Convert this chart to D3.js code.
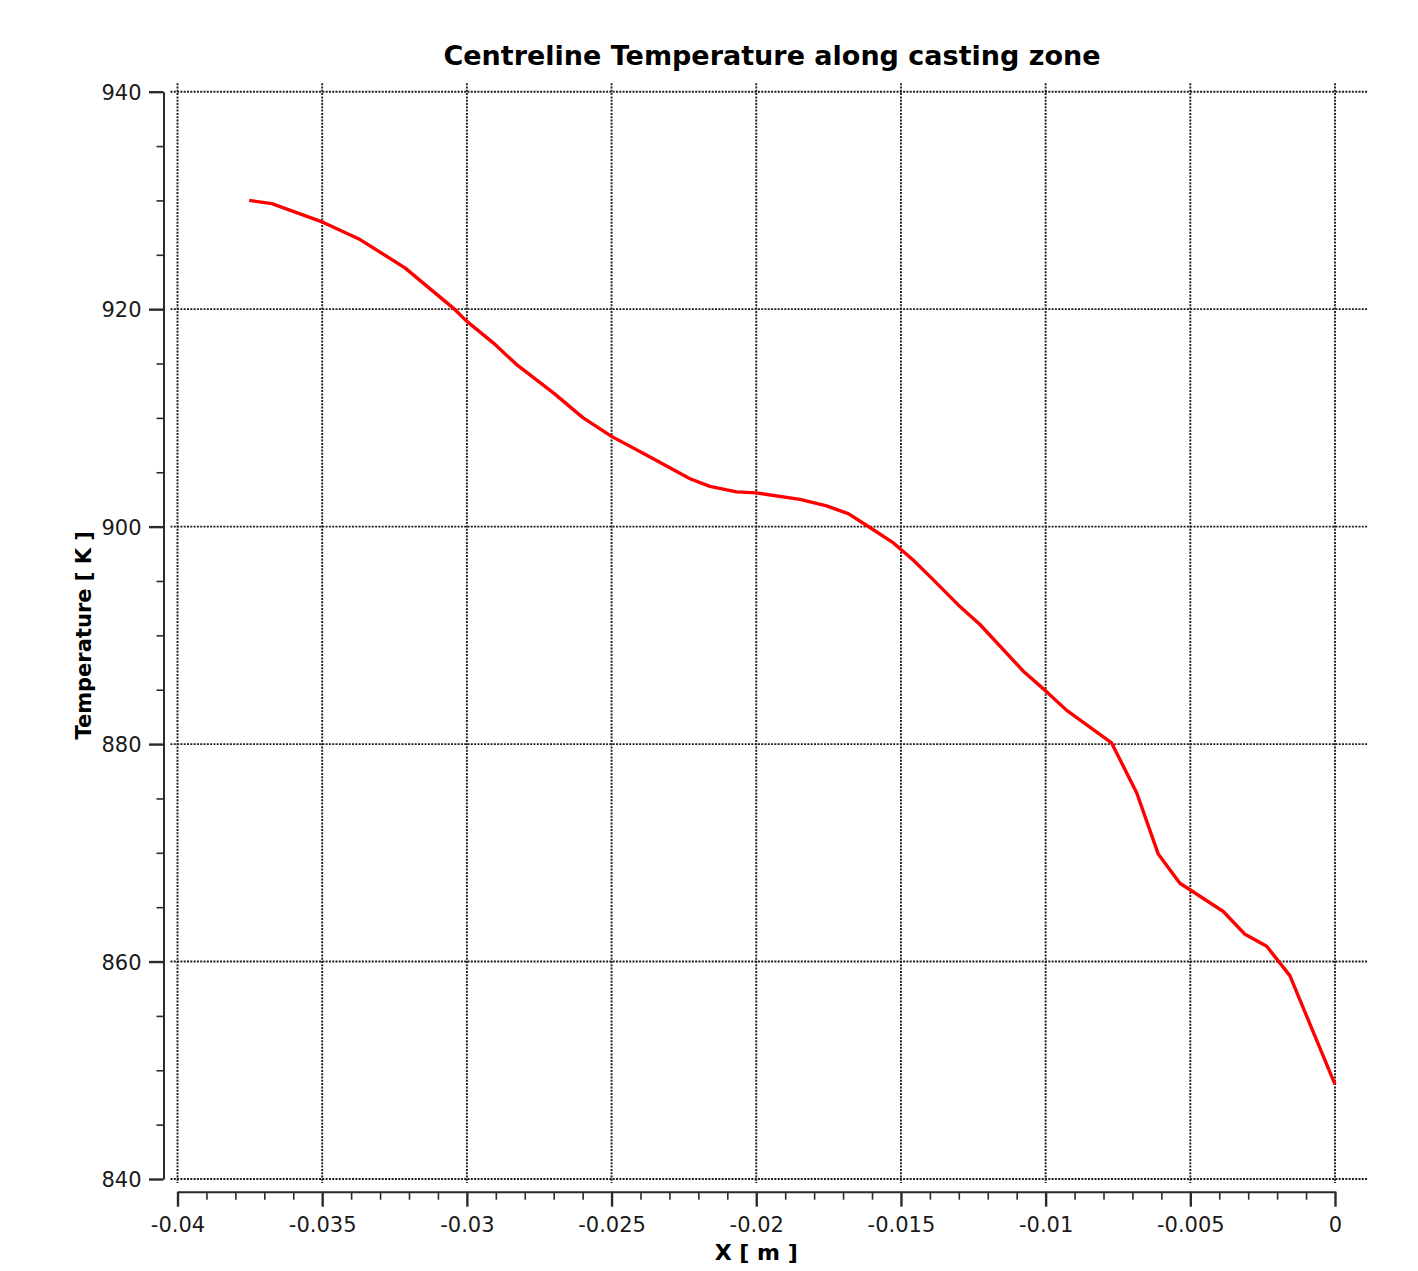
<!DOCTYPE html>
<html>
<head>
<meta charset="utf-8">
<script src="https://cdn.jsdelivr.net/npm/d3@7"></script>
<style>
  html, body { margin: 0; padding: 0; background: #ffffff; }
  svg { display: block; }
  .tick text { font-family: "DejaVu Sans", Verdana, sans-serif; fill: #1a1a1a; }
</style>
</head>
<body>
<svg id="chart" width="1418" height="1271"></svg>
<script>
// Centreline temperature samples along the casting zone
const positionX = [
  -0.03752, -0.03674, -0.03498, -0.03369, -0.03214, -0.03047, -0.03001, -0.02909,
  -0.02828, -0.02701, -0.02598, -0.02500, -0.02367, -0.02229, -0.02160, -0.02068,
  -0.01999, -0.01849, -0.01757, -0.01682, -0.01618, -0.01526, -0.01457, -0.01388,
  -0.01302, -0.01227, -0.01077, -0.00996, -0.00927, -0.00772, -0.00685, -0.00611,
  -0.00536, -0.00501, -0.00386, -0.00311, -0.00236, -0.00156, 0.0
];
const temperatureK = [
  930.0, 929.7, 928.0, 926.4, 923.8, 920.1, 918.9, 916.9,
  914.9, 912.3, 910.0, 908.3, 906.4, 904.4, 903.7, 903.2,
  903.1, 902.5, 901.9, 901.2, 900.1, 898.5, 896.9, 895.1,
  892.8, 891.0, 886.7, 884.8, 883.1, 880.1, 875.5, 869.9,
  867.2, 866.6, 864.6, 862.5, 861.4, 858.7, 848.7
];

const xTickValues = [-0.04, -0.035, -0.03, -0.025, -0.02, -0.015, -0.01, -0.005, 0];
const xTickLabels = ["-0.04", "-0.035", "-0.03", "-0.025", "-0.02", "-0.015", "-0.01", "-0.005", "0"];
const yTickValues = [840, 860, 880, 900, 920, 940];
const yTickLabels = ["840", "860", "880", "900", "920", "940"];

const titleText = "Centreline Temperature along casting zone";
const xAxisTitle = "X [ m ]";
const yAxisTitle = "Temperature [ K ]";

const svg = d3.select("#chart");

const x = d3.scaleLinear().domain([-0.04, 0]).range([177.5, 1335]);
const y = d3.scaleLinear().domain([840, 940]).range([1179, 91.7]);

const xMinor = d3.range(-40, 1).map(k => k / 1000).filter(v => !xTickValues.some(t => Math.abs(t - v) < 1e-9));
const yMinor = d3.range(840, 941, 5).filter(v => !yTickValues.includes(v));

// dotted grid
const grid = svg.append("g").attr("class", "grid")
  .attr("stroke", "#1e1e1e").attr("stroke-width", 1.9)
  .attr("stroke-dasharray", "2,1.3").attr("fill", "none");

grid.selectAll("line.v").data(xTickValues).join("line")
  .attr("class", "v")
  .attr("x1", d => x(d)).attr("x2", d => x(d))
  .attr("y1", y(940) - 8.5).attr("y2", y(840) + 4);

grid.selectAll("line.h").data(yTickValues).join("line")
  .attr("class", "h")
  .attr("y1", d => y(d)).attr("y2", d => y(d))
  .attr("x1", x(-0.04) - 7).attr("x2", x(0) + 33);

// x axis (below the plot)
const xAxisY = 1191.7;
const xAxisG = svg.append("g").attr("transform", `translate(0,${xAxisY})`);
xAxisG.call(d3.axisBottom(x).tickValues(xTickValues).tickSize(15).tickSizeOuter(0)
  .tickFormat((d, i) => xTickLabels[i]));
xAxisG.selectAll(".tick line").attr("stroke-width", 2.4);
xAxisG.select(".domain").attr("stroke-width", 2);
xAxisG.selectAll(".tick text").attr("font-size", 21).attr("dy", "1.0em").attr("y", 19);

const xMinorG = svg.append("g").attr("transform", `translate(0,${xAxisY})`);
xMinorG.call(d3.axisBottom(x).tickValues(xMinor).tickSize(8).tickFormat(""));
xMinorG.select(".domain").remove();
xMinorG.selectAll(".tick line").attr("stroke-width", 1.6);

// y axis (left of the plot)
const yAxisX = 163.5;
const yAxisG = svg.append("g").attr("transform", `translate(${yAxisX},0)`);
yAxisG.call(d3.axisLeft(y).tickValues(yTickValues).tickSize(14.5).tickSizeOuter(0)
  .tickFormat((d, i) => yTickLabels[i]));
yAxisG.selectAll(".tick line").attr("stroke-width", 2.4);
yAxisG.select(".domain").attr("stroke-width", 2);
yAxisG.selectAll(".tick text").attr("font-size", 21).attr("x", -22).attr("dy", "0.36em");

const yMinorG = svg.append("g").attr("transform", `translate(${yAxisX},0)`);
yMinorG.call(d3.axisLeft(y).tickValues(yMinor).tickSize(7).tickFormat(""));
yMinorG.select(".domain").remove();
yMinorG.selectAll(".tick line").attr("stroke-width", 1.6);

svg.selectAll(".domain, .tick line").attr("stroke", "#2b2b2b");

// temperature curve
const points = positionX.map((px, i) => [px, temperatureK[i]]);
svg.append("path")
  .datum(points)
  .attr("fill", "none")
  .attr("stroke", "#ff0000")
  .attr("stroke-width", 3.4)
  .attr("stroke-linejoin", "round")
  .attr("d", d3.line().x(d => x(d[0])).y(d => y(d[1])));

// titles
svg.append("text")
  .attr("x", 772).attr("y", 65)
  .attr("text-anchor", "middle")
  .attr("font-family", "DejaVu Sans, Verdana, sans-serif")
  .attr("font-weight", "bold").attr("font-size", 27)
  .attr("fill", "#000")
  .text(titleText);

svg.append("text")
  .attr("x", (x(-0.04) + x(0)) / 2).attr("y", 1260)
  .attr("text-anchor", "middle")
  .attr("font-family", "DejaVu Sans, Verdana, sans-serif")
  .attr("font-weight", "bold").attr("font-size", 22)
  .attr("fill", "#000")
  .text(xAxisTitle);

svg.append("text")
  .attr("transform", `translate(91,${(y(840) + y(940)) / 2}) rotate(-90)`)
  .attr("text-anchor", "middle")
  .attr("font-family", "DejaVu Sans, Verdana, sans-serif")
  .attr("font-weight", "bold").attr("font-size", 21)
  .attr("fill", "#000")
  .text(yAxisTitle);
</script>
</body>
</html>
